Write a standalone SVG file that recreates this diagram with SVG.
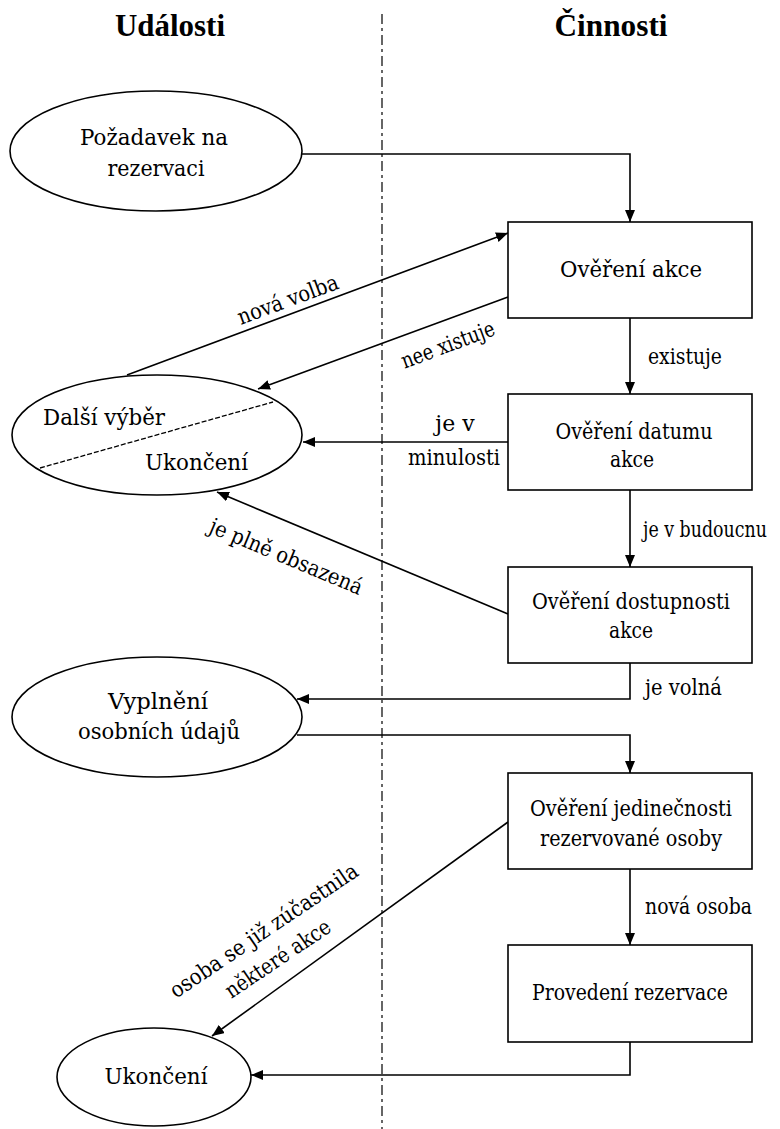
<svg xmlns="http://www.w3.org/2000/svg" width="780" height="1129" viewBox="0 0 780 1129">
<style>
  text { font-family: "DejaVu Serif", "Liberation Serif", serif; font-size: 22px; fill: #000; }
  .hdr { font-family: "Liberation Serif", "DejaVu Serif", serif; font-size: 31px; font-weight: bold; text-anchor: middle; }
  .mid { text-anchor: middle; }
  .node { fill: #fff; stroke: #000; stroke-width: 1.6; }
  .conn { fill: none; stroke: #000; stroke-width: 1.6; marker-end: url(#arr); }
  .lane { stroke: #000; stroke-width: 1.2; stroke-dasharray: 10 4 3 4; fill: none; }
  .split { stroke: #000; stroke-width: 1.3; stroke-dasharray: 5 2; fill: none; }
</style>
<defs>
  <marker id="arr" markerUnits="userSpaceOnUse" markerWidth="13" markerHeight="11" refX="12" refY="5" orient="auto">
    <path d="M0,0 L12,5 L0,10 z" fill="#000"/>
  </marker>
</defs>
<rect width="780" height="1129" fill="#fff"/>

<g id="headers">
  <text class="hdr" x="170" y="36" textLength="110" lengthAdjust="spacingAndGlyphs">Události</text>
  <text class="hdr" x="611" y="36" textLength="113" lengthAdjust="spacingAndGlyphs">Činnosti</text>
  <line class="lane" x1="382" y1="14" x2="382" y2="1129"/>
</g>

<g id="connectors">
  <polyline class="conn" points="302,154 630,154 630,222"/>
  <line class="conn" x1="630" y1="318" x2="630" y2="394"/>
  <line class="conn" x1="508" y1="442" x2="303" y2="442"/>
  <line class="conn" x1="630" y1="490" x2="630" y2="567"/>
  <polyline class="conn" points="630,663 630,699 297,699"/>
  <polyline class="conn" points="297,735 630,735 630,773"/>
  <line class="conn" x1="630" y1="869" x2="630" y2="945"/>
  <polyline class="conn" points="630,1042 630,1075 251,1075"/>
  <line class="conn" x1="127" y1="375" x2="508" y2="233"/>
  <line class="conn" x1="508" y1="297" x2="258" y2="389"/>
  <line class="conn" x1="508" y1="614" x2="217" y2="492"/>
  <line class="conn" x1="508" y1="822" x2="212" y2="1036"/>
</g>

<g id="labels">
  <text x="648" y="364" textLength="74" lengthAdjust="spacingAndGlyphs">existuje</text>
  <text class="mid" x="455" y="431">je v</text>
  <text class="mid" x="454" y="465" textLength="92" lengthAdjust="spacingAndGlyphs">minulosti</text>
  <text x="643" y="537" textLength="124" lengthAdjust="spacingAndGlyphs">je v budoucnu</text>
  <text x="645" y="695" textLength="77" lengthAdjust="spacingAndGlyphs">je volná</text>
  <text x="645" y="914" textLength="107" lengthAdjust="spacingAndGlyphs">nová osoba</text>
  <text class="mid" transform="translate(288,300) rotate(-20.3)" x="0" y="7" textLength="106" lengthAdjust="spacingAndGlyphs">nová volba</text>
  <text class="mid" transform="translate(448,345) rotate(-20.4)" x="0" y="7" textLength="98" lengthAdjust="spacingAndGlyphs">nee xistuje</text>
  <text class="mid" transform="translate(286,557) rotate(22.7)" x="0" y="7" textLength="164" lengthAdjust="spacingAndGlyphs">je plně obsazená</text>
  <text class="mid" transform="translate(264,931) rotate(-34)" x="0" y="7" textLength="222" lengthAdjust="spacingAndGlyphs">osoba se již zúčastnila</text>
  <text class="mid" transform="translate(278,959) rotate(-34)" x="0" y="7" textLength="122" lengthAdjust="spacingAndGlyphs">některé akce</text>
</g>

<g id="pozadavek">
  <ellipse class="node" cx="156" cy="151" rx="146" ry="60"/>
  <text class="mid" x="154" y="145" textLength="148" lengthAdjust="spacingAndGlyphs">Požadavek na</text>
  <text class="mid" x="156" y="176" textLength="97" lengthAdjust="spacingAndGlyphs">rezervaci</text>
</g>

<g id="dalsi-vyber">
  <ellipse class="node" cx="157" cy="435" rx="145" ry="60"/>
  <line class="split" x1="40" y1="468" x2="273" y2="402"/>
  <text x="43" y="425" textLength="122" lengthAdjust="spacingAndGlyphs">Další výběr</text>
  <text x="145" y="470" textLength="103" lengthAdjust="spacingAndGlyphs">Ukončení</text>
</g>

<g id="vyplneni">
  <ellipse class="node" cx="157" cy="717" rx="145" ry="60"/>
  <text class="mid" x="158" y="709" textLength="100" lengthAdjust="spacingAndGlyphs">Vyplnění</text>
  <text class="mid" x="159" y="739" textLength="162" lengthAdjust="spacingAndGlyphs">osobních údajů</text>
</g>

<g id="ukonceni">
  <ellipse class="node" cx="154" cy="1077" rx="97" ry="49"/>
  <text class="mid" x="156" y="1084" textLength="103" lengthAdjust="spacingAndGlyphs">Ukončení</text>
</g>

<g id="overeni-akce">
  <rect class="node" x="508" y="222" width="244" height="96"/>
  <text class="mid" x="631" y="277" textLength="142" lengthAdjust="spacingAndGlyphs">Ověření akce</text>
</g>

<g id="overeni-datumu">
  <rect class="node" x="508" y="394" width="244" height="96"/>
  <text class="mid" x="634" y="439" textLength="157" lengthAdjust="spacingAndGlyphs">Ověření datumu</text>
  <text class="mid" x="632" y="467" textLength="44" lengthAdjust="spacingAndGlyphs">akce</text>
</g>

<g id="overeni-dostupnosti">
  <rect class="node" x="508" y="567" width="244" height="96"/>
  <text class="mid" x="631" y="609" textLength="198" lengthAdjust="spacingAndGlyphs">Ověření dostupnosti</text>
  <text class="mid" x="631" y="638" textLength="44" lengthAdjust="spacingAndGlyphs">akce</text>
</g>

<g id="overeni-jedinecnosti">
  <rect class="node" x="508" y="773" width="244" height="96"/>
  <text class="mid" x="631" y="816" textLength="202" lengthAdjust="spacingAndGlyphs">Ověření jedinečnosti</text>
  <text class="mid" x="631" y="846" textLength="182" lengthAdjust="spacingAndGlyphs">rezervované osoby</text>
</g>

<g id="provedeni">
  <rect class="node" x="508" y="945" width="244" height="97"/>
  <text class="mid" x="630" y="1000" textLength="196" lengthAdjust="spacingAndGlyphs">Provedení rezervace</text>
</g>
</svg>
